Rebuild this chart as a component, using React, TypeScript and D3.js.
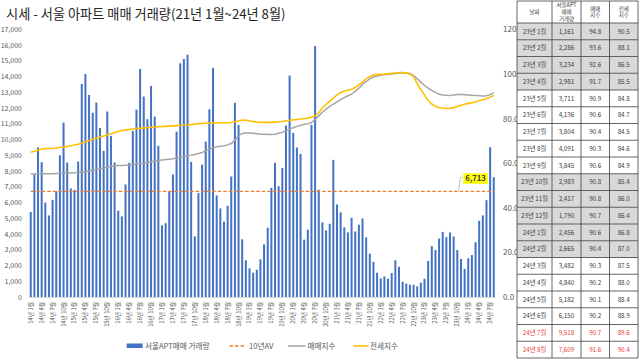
import React from 'react';
import * as d3 from 'd3';

const TITLE = '시세 - 서울 아파트 매매 거래량(21년 1월~24년 8월)';

const years = [14, 15, 16, 17, 18, 19, 20, 21, 22, 23, 24];
const monthNums = [1, 2, 3, 4, 5, 6, 7, 8, 9, 10, 11, 12];

// 서울APT매매 거래량 (2014-01 ~ 2024-08)
const volumes = [
  5400, 7800, 9500, 8560, 6000, 5180, 6170, 6720, 9000, 11080, 8540, 6890,
  6800, 8600, 13530, 14160, 12830, 11700, 12350, 10740, 9280, 11780, 10230, 8540,
  5480, 5120, 7150, 8520, 10550, 11900, 14480, 12730, 11290, 13400, 11460, 9600,
  4550, 4690, 6720, 7780, 10500, 14840, 15120, 15390, 8580, 3850, 6600, 8410,
  9870, 11920, 14550, 6450, 5620, 4780, 5790, 7650, 12330, 10930, 3660, 2330,
  1820, 1540, 1730, 2390, 3340, 4400, 6930, 8520, 7040, 8200, 10890, 14060,
  10420, 9490, 9090, 3640, 4270, 10930, 15940, 6810, 4740, 4230, 4650, 8710,
  5880, 5370, 4420, 4100, 5030, 4160, 4590, 4990, 3780, 2750, 2240, 1540,
  1180, 1310, 1160, 1520, 2330, 1920, 970, 850, 780, 780, 680, 910,
  1161, 2286, 3234, 2981, 3711, 4136, 3804, 4091, 3845, 2983, 2417, 1790,
  2456, 2665, 3482, 4840, 5182, 6150, 9518, 7609,
];

// 매매지수
const saleIndex = [
  55.1, 55.1, 55.2, 55.2, 55.3, 55.3, 55.3, 55.4, 55.5, 55.5, 55.6, 55.6,
  55.7, 55.8, 56.0, 56.2, 56.5, 56.8, 57.1, 57.5, 57.8, 58.2, 58.5, 58.8,
  58.9, 59.0, 59.1, 59.2, 59.4, 59.6, 59.8, 60.0, 60.3, 60.6, 60.9, 61.2,
  61.4, 61.6, 61.8, 62.0, 62.3, 62.6, 62.9, 63.3, 63.6, 63.9, 64.3, 64.8,
  65.5, 66.3, 66.9, 67.3, 67.6, 67.8, 68.2, 68.8, 70.3, 72.3, 73.3, 73.5,
  73.5, 73.4, 73.2, 73.0, 72.9, 72.8, 72.8, 73.0, 73.4, 73.8, 74.6, 75.3,
  75.9, 76.5, 77.0, 77.3, 77.6, 78.2, 79.6, 81.2, 82.8, 84.2, 85.4, 86.5,
  87.5, 88.5, 89.4, 90.2, 90.9, 92.2, 93.6, 95.3, 96.6, 97.8, 98.6, 99.1,
  99.4, 99.6, 99.8, 100.0, 100.2, 100.4, 100.4, 100.3, 100.2, 99.2, 97.8, 96.3,
  94.8, 93.6, 92.6, 91.7, 90.9, 90.6, 90.4, 90.3, 90.6, 90.8, 90.8, 90.7,
  90.6, 90.4, 90.3, 90.2, 90.1, 90.2, 90.7, 91.6,
];

// 전세지수
const jeonseIndex = [
  64.9, 65.3, 65.8, 66.3, 66.5, 66.6, 66.7, 66.8, 67.0, 67.2, 67.5, 67.8,
  68.1, 68.5, 69.0, 69.6, 70.2, 70.7, 71.2, 71.7, 72.2, 72.7, 73.2, 73.7,
  74.2, 74.6, 74.9, 75.1, 75.3, 75.5, 75.6, 75.8, 75.9, 76.1, 76.2, 76.3,
  76.4, 76.5, 76.6, 76.7, 76.8, 76.9, 77.0, 77.1, 77.3, 77.5, 77.7, 77.8,
  77.9, 78.0, 78.0, 78.1, 78.1, 78.1, 78.1, 78.2, 78.6, 79.0, 79.3, 79.2,
  79.0, 78.7, 78.4, 78.3, 78.3, 78.3, 78.3, 78.4, 78.5, 78.7, 79.0, 79.2,
  79.4, 79.6, 79.8, 80.0, 80.2, 80.6, 81.2, 82.6, 84.7, 86.3, 87.8, 89.2,
  90.6, 91.6, 92.3, 92.7, 93.0, 94.0, 95.1, 96.3, 97.9, 98.7, 99.5, 99.7,
  99.8, 99.9, 100.1, 100.3, 100.4, 100.6, 100.6, 100.4, 99.9, 98.8, 95.7, 93.0,
  90.5, 88.1, 86.5, 85.5, 84.8, 84.7, 84.5, 84.6, 84.9, 85.4, 86.0, 86.4,
  86.8, 87.0, 87.5, 88.0, 88.4, 88.9, 89.6, 90.4,
];

const avg10y = 6713;

const leftTicks = [0, 1000, 2000, 3000, 4000, 5000, 6000, 7000, 8000, 9000, 10000, 11000, 12000, 13000, 14000, 15000, 16000, 17000];
const rightTicks = [0, 20, 40, 60, 80, 100, 120];

const legendLabels = ['서울APT매매 거래량', '10년AV', '매매지수', '전세지수'];

// table
const tableHeaders = [['날짜'], ['서울APT', '매매', '거래량'], ['매매', '지수'], ['전세', '지수']];
const tableDates = ['23년 1월', '23년 2월', '23년 3월', '23년 4월', '23년 5월', '23년 6월', '23년 7월', '23년 8월', '23년 9월', '23년 10월', '23년 11월', '23년 12월', '24년 1월', '24년 2월', '24년 3월', '24년 4월', '24년 5월', '24년 6월', '24년 7월', '24년 8월'];
const tableVolumes = ['1,161', '2,286', '3,234', '2,981', '3,711', '4,136', '3,804', '4,091', '3,845', '2,983', '2,417', '1,790', '2,456', '2,665', '3,482', '4,840', '5,182', '6,150', '9,518', '7,609'];
const tableSale = ['94.8', '93.6', '92.6', '91.7', '90.9', '90.6', '90.4', '90.3', '90.6', '90.8', '90.8', '90.7', '90.6', '90.4', '90.3', '90.2', '90.1', '90.2', '90.7', '91.6'];
const tableJeonse = ['90.5', '88.1', '86.5', '85.5', '84.8', '84.7', '84.5', '84.6', '84.9', '85.4', '86.0', '86.4', '86.8', '87.0', '87.5', '88.0', '88.4', '88.9', '89.6', '90.4'];
const tableShaded = [true, true, true, true, false, false, false, false, false, true, true, true, true, true, false, false, false, false, false, false];
const tableRed = [false, false, false, false, false, false, false, false, false, false, false, false, false, false, false, false, false, false, true, true];

const FONT = '"Noto Sans CJK KR", "Noto Sans", sans-serif';
const BLUE = '#4472C4';
const ORANGE = '#ED7D31';
const GRAY = '#A5A5A5';
const GOLD = '#FFC000';
const TXT = '#595959';

export default function App() {
  const categories: string[] = [];
  years.forEach((y) => monthNums.forEach((m) => categories.push(`${y}년 ${m}월`)));
  const cats = categories.slice(0, volumes.length);

  const x = d3.scaleBand<string>().domain(cats).range([29, 495.5]).paddingInner(0.45).paddingOuter(0.2);
  const step = x.step();
  const cx = (i: number) => (x(cats[i]) as number) + x.bandwidth() / 2;
  const yL = d3.scaleLinear().domain([0, 17000]).range([297, 29.3]);
  const yR = d3.scaleLinear().domain([0, 120]).range([297, 29.3]);

  const idxLine = d3.line<number>().x((_, i) => cx(i)).y((d) => yR(d));
  const avgY = yL(avg10y);

  const tCols = [517, 552, 581, 609.5, 638];
  const headTop = 1;
  const headBot = 23;
  const rowH = 16.75;

  const legY = 346;

  return (
    <svg width={640} height={360} style={{ position: 'absolute', left: 0, top: 0, background: '#fff' }} fontFamily={FONT}>
      <rect x={0} y={0} width={640} height={360} fill="#fff" />
      <text x={6} y={19} fontSize={13.2} fill="#262626">{TITLE}</text>

      {/* left axis */}
      {leftTicks.map((t) => (
        <text key={t} x={22} y={yL(t) + 2.5} fontSize={7} textAnchor="end" fill={TXT}>{d3.format(',')(t)}</text>
      ))}
      {/* right axis */}
      {rightTicks.map((t) => (
        <text key={t} x={503} y={yR(t) + 3} fontSize={8} textAnchor="start" fill={TXT}>{d3.format('.1f')(t)}</text>
      ))}

      {/* baseline */}
      <line x1={29} x2={495.5} y1={297.5} y2={297.5} stroke="#D9D9D9" strokeWidth={1} />

      {/* bars */}
      {volumes.map((v, i) => (
        <rect key={i} x={x(cats[i])} y={yL(v)} width={x.bandwidth()} height={yL(0) - yL(v)} fill={BLUE} />
      ))}

      {/* 10yr avg */}
      <line x1={cx(0)} x2={cx(volumes.length - 1)} y1={avgY} y2={avgY} stroke={ORANGE} strokeWidth={1.3} strokeDasharray="3.5,2" />

      {/* index lines */}
      <path d={idxLine(saleIndex) || ''} fill="none" stroke={GRAY} strokeWidth={1.5} />
      <path d={idxLine(jeonseIndex) || ''} fill="none" stroke={GOLD} strokeWidth={1.6} />

      {/* data label */}
      <polyline points={`${cx(117) + step * 0.3},${avgY} ${cx(118) - 0.5},${avgY - 14} ${cx(118) + 1.5},${avgY - 14}`} fill="none" stroke="#A6A6A6" strokeWidth={0.7} />
      <rect x={463.3} y={173.3} width={24.5} height={10.5} fill="#FFFF00" />
      <text x={475.5} y={181.3} fontSize={7.6} textAnchor="middle" fill="#404040" fontWeight={600}>{d3.format(',')(avg10y)}</text>

      {/* x tick labels */}
      {cats.map((c, i) => (i % 3 === 0 ? (
        <text key={c} transform={`translate(${cx(i) + 2},302) rotate(-90)`} fontSize={5.8} textAnchor="end" fill={TXT}>{c}</text>
      ) : null))}

      {/* legend */}
      <rect x={126.7} y={343.5} width={16} height={4.5} fill={BLUE} />
      <text x={145} y={legY + 3} fontSize={7.6} fill={TXT}>{legendLabels[0]}</text>
      <line x1={229.5} x2={246} y1={legY} y2={legY} stroke={ORANGE} strokeWidth={1.3} strokeDasharray="3.5,2" />
      <text x={249} y={legY + 3} fontSize={7.6} fill={TXT}>{legendLabels[1]}</text>
      <line x1={288} x2={305.5} y1={legY} y2={legY} stroke={GRAY} strokeWidth={1.5} />
      <text x={307.5} y={legY + 3} fontSize={7.6} fill={TXT}>{legendLabels[2]}</text>
      <line x1={353.5} x2={368.5} y1={legY} y2={legY} stroke={GOLD} strokeWidth={1.6} />
      <text x={370} y={legY + 3} fontSize={7.6} fill={TXT}>{legendLabels[3]}</text>

      {/* table */}
      <g>
        <rect x={tCols[0]} y={headTop} width={tCols[4] - tCols[0]} height={headBot - headTop + rowH * tableDates.length} fill="#fff" />
        {tableDates.map((d, r) => {
          const top = headBot + r * rowH;
          const color = tableRed[r] ? '#E8413E' : '#404040';
          const ty = top + rowH / 2 + 2.3;
          return (
            <g key={d}>
              {tableShaded[r] && <rect x={tCols[0]} y={top} width={tCols[4] - tCols[0]} height={rowH} fill="#D9D9D9" />}
              <text x={(tCols[0] + tCols[1]) / 2} y={ty} fontSize={6.3} textAnchor="middle" fill={color}>{d}</text>
              <text x={(tCols[1] + tCols[2]) / 2} y={ty} fontSize={6.3} textAnchor="middle" fill={color}>{tableVolumes[r]}</text>
              <text x={(tCols[2] + tCols[3]) / 2} y={ty} fontSize={6.3} textAnchor="middle" fill={color}>{tableSale[r]}</text>
              <text x={(tCols[3] + tCols[4]) / 2} y={ty} fontSize={6.3} textAnchor="middle" fill={color}>{tableJeonse[r]}</text>
            </g>
          );
        })}
        {tableHeaders.map((lines, c) => {
          const mid = (tCols[c] + tCols[c + 1]) / 2;
          const lh = 6.6;
          const start = (headTop + headBot) / 2 - ((lines.length - 1) * lh) / 2 + 2;
          return lines.map((l, k) => (
            <text key={`${c}-${k}`} x={mid} y={start + k * lh} fontSize={5.5} textAnchor="middle" fill="#404040">{l}</text>
          ));
        })}
        {/* grid lines */}
        {tCols.map((c) => (
          <line key={c} x1={c} x2={c} y1={headTop} y2={headBot + rowH * tableDates.length} stroke="#404040" strokeWidth={0.8} />
        ))}
        {d3.range(tableDates.length + 1).map((r) => (
          <line key={r} x1={tCols[0]} x2={tCols[4]} y1={headBot + r * rowH} y2={headBot + r * rowH} stroke="#404040" strokeWidth={0.8} />
        ))}
        <line x1={tCols[0]} x2={tCols[4]} y1={headTop} y2={headTop} stroke="#404040" strokeWidth={0.8} />
      </g>
    </svg>
  );
}
